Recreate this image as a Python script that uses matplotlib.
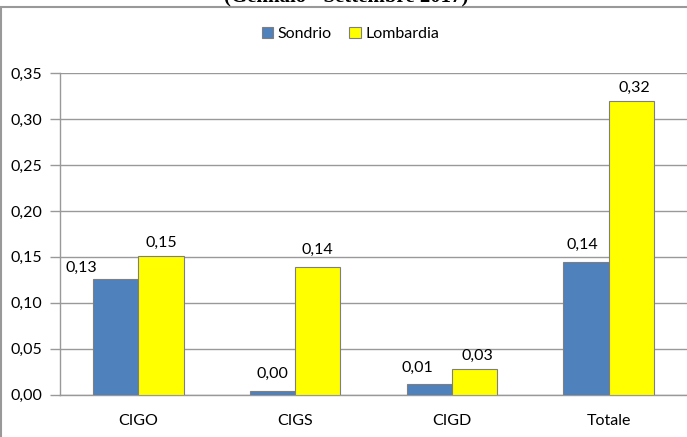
import numpy as np
import matplotlib
matplotlib.use("Agg")
import matplotlib.pyplot as plt
from matplotlib.patches import Rectangle

plt.rcParams.update({"font.family": ["Lato", "DejaVu Sans"], "font.size": 11.5})

categories = ["CIGO", "CIGS", "CIGD", "Totale"]
sondrio = [0.126, 0.004, 0.011, 0.144]
lombardia = [0.151, 0.139, 0.028, 0.320]
yticks = [0.00, 0.05, 0.10, 0.15, 0.20, 0.25, 0.30, 0.35]

# label shifts (pixels) - some labels were moved by hand in the original
son_dx = [-34, 0, -12, -4]
son_dy = [4, 10, 10, 10]
lom_dx = [0, 0, 3, 3]
lom_dy = [6, 10, 6, 6]

fig = plt.figure(figsize=(6.87, 4.37), dpi=100)
ax = fig.add_axes([60/687, 1 - 394.5/437, 1 - 60/687, (394.5 - 73.3)/437])

# outer chart frame
fig.patches.append(Rectangle((1/687, -0.05), 1.2, 1 - 7/437 + 0.05, transform=fig.transFigure,
                             fill=False, edgecolor="#999999", linewidth=1.5))

x = np.arange(len(categories))
w = 0.289
b1 = ax.bar(x - w/2, sondrio, w, color="#4F81BD", edgecolor="#7f7f7f", linewidth=0.8,
            label="Sondrio", zorder=3)
b2 = ax.bar(x + w/2, lombardia, w, color="#FFFF00", edgecolor="#7f7f7f", linewidth=0.8,
            label="Lombardia", zorder=3)

for i in range(len(categories)):
    ax.annotate(f"{sondrio[i]:.2f}".replace(".", ","), (x[i] - w/2, sondrio[i]),
                xytext=(son_dx[i], son_dy[i]), textcoords="offset pixels",
                ha="center", va="bottom")
    ax.annotate(f"{lombardia[i]:.2f}".replace(".", ","), (x[i] + w/2, lombardia[i]),
                xytext=(lom_dx[i], lom_dy[i]), textcoords="offset pixels",
                ha="center", va="bottom")

ax.set_xlim(-0.5, len(categories) - 0.5)
ax.set_ylim(0, 0.35)
ax.set_yticks(yticks)
ax.set_yticklabels([f"{v:.2f}".replace(".", ",") for v in yticks])
ax.set_xticks(x)
ax.set_xticklabels(categories)
ax.tick_params(axis="y", length=7, width=1, color="#999999", pad=6)
ax.tick_params(axis="x", length=0, pad=14)
ax.grid(axis="y", color="#999999", linewidth=1, zorder=0)
ax.set_axisbelow(True)
for s in ["top", "right"]:
    ax.spines[s].set_visible(False)
for s in ["left", "bottom"]:
    ax.spines[s].set_color("#999999")
    ax.spines[s].set_linewidth(1)

fig.legend(handles=[b1, b2], loc="center", bbox_to_anchor=(350.5/687, 1 - 34/437), ncol=2,
           frameon=False, handlelength=0.7, handleheight=0.7, handletextpad=0.3,
           columnspacing=1.1)

# title sits mostly above the top edge, as in the original crop
fig.text(346/687, 1 - 1.5/437, "(Gennaio - Settembre 2017)", ha="center", va="baseline",
         family="Liberation Serif", fontweight="bold", fontsize=15)

fig.savefig("out.png", dpi=100)
